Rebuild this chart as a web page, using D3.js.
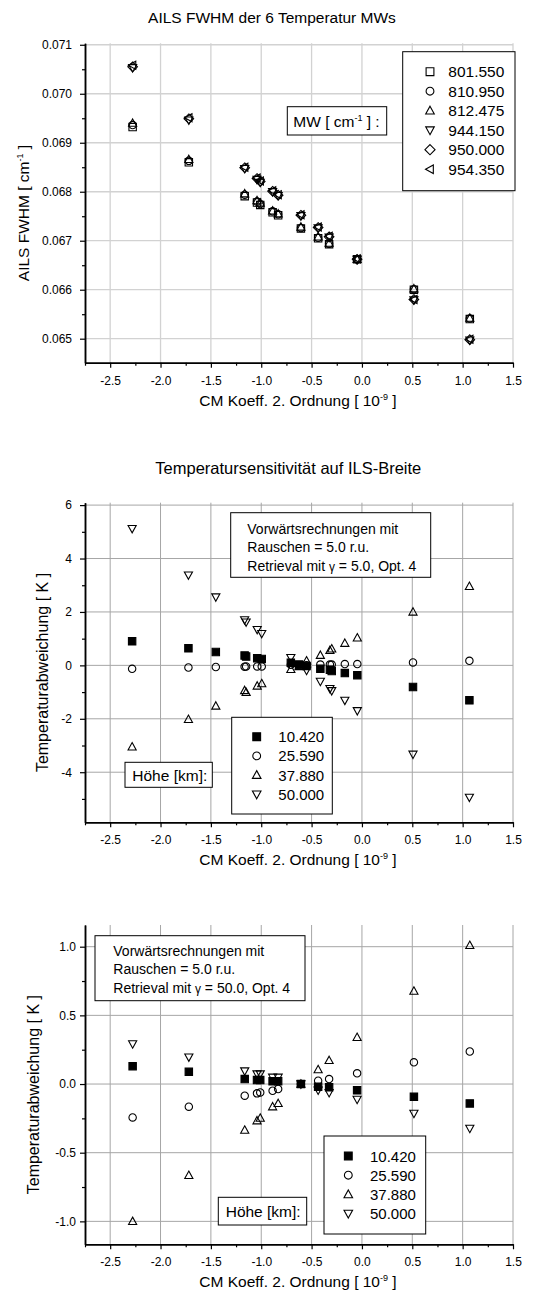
<!DOCTYPE html>
<html>
<head>
<meta charset="utf-8">
<script src="https://cdn.jsdelivr.net/npm/d3@7"></script>
<style>
  body { margin: 0; background: #fff; }
  svg { display: block; }
  text { font-family: "Liberation Sans", Arial, Helvetica, sans-serif; fill: #000; }
</style>
</head>
<body>
<svg id="chart" width="535" height="1293"></svg>
<script>
// ---- shared x axis: CM coefficient of 2nd order [1e-9] ----
const xTicks = [-2.5, -2.0, -1.5, -1.0, -0.5, 0.0, 0.5, 1.0, 1.5];
const xMinorTicks = [-2.75, -2.25, -1.75, -1.25, -0.75, -0.25, 0.25, 0.75, 1.25];

// ---- panel 1: AILS FWHM of the 6 temperature micro windows ----
const cmCoeff = [-2.277, -1.719, -1.164, -1.042, -1.010, -0.887, -0.832, -0.606, -0.435, -0.326, -0.048, 0.516, 1.071];
const fwhm801 = [0.06932, 0.06860, 0.06791, 0.06778, 0.06773, 0.06758, 0.06752, 0.06725, 0.06705, 0.06693, 0.06662, 0.06600, 0.06540];
const fwhm810 = [0.06936, 0.06863, 0.06794, 0.06780, 0.06775, 0.06760, 0.06754, 0.06726, 0.06706, 0.06694, 0.06662, 0.06601, 0.06541];
const fwhm812 = [0.06940, 0.06866, 0.06796, 0.06782, 0.06777, 0.06761, 0.06755, 0.06728, 0.06708, 0.06695, 0.06662, 0.06602, 0.06542];
const fwhm944 = [0.07053, 0.06946, 0.06847, 0.06825, 0.06819, 0.06800, 0.06792, 0.06751, 0.06726, 0.06707, 0.06662, 0.06579, 0.06497];
const fwhm950 = [0.07055, 0.06949, 0.06849, 0.06827, 0.06821, 0.06801, 0.06793, 0.06752, 0.06727, 0.06708, 0.06662, 0.06580, 0.06498];
const fwhm954 = [0.07058, 0.06951, 0.06850, 0.06828, 0.06822, 0.06802, 0.06794, 0.06753, 0.06728, 0.06709, 0.06663, 0.06580, 0.06499];
const mwLabels = ["801.550", "810.950", "812.475", "944.150", "950.000", "954.350"];
const fwhmTicks = [0.065, 0.066, 0.067, 0.068, 0.069, 0.070, 0.071];

// ---- panel 2: temperature deviation, retrieval with gamma = 5.0 ----
const cmCoeffG5 = [-2.282, -1.723, -1.451, -1.165, -1.150, -1.040, -0.995, -0.706, -0.625, -0.550, -0.413, -0.318, -0.300, -0.170, -0.046, 0.507, 1.067];
const dTg5h10 = [0.90, 0.64, 0.50, 0.37, 0.33, 0.27, 0.24, 0.10, 0.03, -0.02, -0.13, -0.16, -0.21, -0.29, -0.37, -0.81, -1.31];
const dTg5h25 = [-0.13, -0.08, -0.06, -0.05, -0.04, -0.04, -0.04, 0.02, 0.00, 0.00, 0.03, 0.03, 0.03, 0.05, 0.05, 0.11, 0.17];
const dTg5h37 = [-3.05, -2.02, -1.52, -0.94, -1.01, -0.77, -0.68, -0.15, -0.04, 0.17, 0.38, 0.56, 0.62, 0.83, 1.03, 2.00, 2.96];
const dTg5h50 = [5.12, 3.38, 2.56, 1.70, 1.62, 1.34, 1.19, 0.29, 0.03, -0.19, -0.60, -0.87, -0.95, -1.31, -1.70, -3.33, -4.94];
const dTg5Ticks = [-4, -2, 0, 2, 4, 6];
const dTg5Minor = [-5, -3, -1, 1, 3, 5];

// ---- panel 3: temperature deviation, retrieval with gamma = 50.0 ----
const dTg50h10 = [0.130, 0.089, 0.036, 0.029, 0.029, 0.020, 0.020, 0.000, -0.020, -0.024, -0.046, -0.093, -0.141];
const dTg50h25 = [-0.243, -0.165, -0.085, -0.068, -0.061, -0.049, -0.036, 0.000, 0.024, 0.036, 0.078, 0.158, 0.237];
const dTg50h37 = [-1.000, -0.665, -0.335, -0.267, -0.248, -0.165, -0.141, 0.000, 0.105, 0.172, 0.340, 0.677, 1.010];
const dTg50h50 = [0.292, 0.196, 0.095, 0.073, 0.073, 0.049, 0.049, 0.000, -0.045, -0.063, -0.112, -0.214, -0.323];
const dTg50Ticks = [-1.0, -0.5, 0.0, 0.5, 1.0];
const dTg50Minor = [-0.75, -0.25, 0.25, 0.75];

const heightLabels = ["10.420", "25.590", "37.880", "50.000"];

// ---- drawing ----
const svg = d3.select("#chart");
const X_LEFT = 85, X_RIGHT = 513;
const x = d3.scaleLinear().domain([-2.75, 1.5]).range([X_LEFT, X_RIGHT]);
const dash = s => s.replace(/\u2212/g, "-");

// marker outlines, centred on the data point
const shapes = {
  square: r => `M${-r},${-r}h${2 * r}v${2 * r}h${-2 * r}Z`,
  circle: r => `M${r},0A${r},${r} 0 1,1 ${-r},0A${r},${r} 0 1,1 ${r},0Z`,
  up: r => `M0,${-r * 1.15}L${r * 1.1},${r * 0.85}L${-r * 1.1},${r * 0.85}Z`,
  down: r => `M0,${r * 1.15}L${r * 1.1},${-r * 0.85}L${-r * 1.1},${-r * 0.85}Z`,
  diamond: r => `M0,${-r * 1.3}L${r * 1.3},0L0,${r * 1.3}L${-r * 1.3},0Z`,
  left: r => `M${-r * 1.15},0L${r * 0.85},${-r * 1.1}L${r * 0.85},${r * 1.1}Z`
};

function marker(sel, shape, filled, r) {
  sel.attr("d", shapes[shape](r))
    .attr("fill", filled ? "#000" : "none")
    .attr("stroke", "#000")
    .attr("stroke-width", 1.1);
}

function drawPanel(cfg) {
  const y = d3.scaleLinear().domain(cfg.yDomain).range([cfg.bottom, cfg.top]);
  const g = svg.append("g");

  // grid
  g.append("g").selectAll("line").data(xTicks).join("line")
    .attr("x1", d => x(d)).attr("x2", d => x(d))
    .attr("y1", cfg.top).attr("y2", cfg.bottom)
    .attr("stroke", cfg.gridColor).attr("stroke-width", cfg.gridWidth);
  g.append("g").selectAll("line").data(cfg.yTicks).join("line")
    .attr("x1", X_LEFT).attr("x2", X_RIGHT)
    .attr("y1", d => y(d)).attr("y2", d => y(d))
    .attr("stroke", cfg.gridColor).attr("stroke-width", cfg.gridWidth);

  // x axis
  const xMinorAxis = g.append("g").attr("transform", `translate(0,${cfg.bottom})`)
    .call(d3.axisBottom(x).tickValues(xMinorTicks).tickSize(3).tickSizeOuter(0).tickFormat(""));
  const xAxis = g.append("g").attr("transform", `translate(0,${cfg.bottom})`)
    .call(d3.axisBottom(x).tickValues(xTicks).tickSize(5).tickSizeOuter(0).tickPadding(8.5)
      .tickFormat(d => dash(d3.format(".1f")(d))));

  // y axis
  const yMinorAxis = g.append("g").attr("transform", `translate(${X_LEFT},0)`)
    .call(d3.axisLeft(y).tickValues(cfg.yMinor).tickSize(3).tickSizeOuter(0).tickFormat(""));
  const yAxis = g.append("g").attr("transform", `translate(${X_LEFT},0)`)
    .call(d3.axisLeft(y).tickValues(cfg.yTicks).tickSize(5).tickSizeOuter(0).tickPadding(cfg.yPad)
      .tickFormat(d => dash(d3.format(cfg.yFormat)(d))));

  [xMinorAxis, xAxis, yMinorAxis, yAxis].forEach(a => {
    a.select(".domain").attr("stroke-width", 1.5);
    a.selectAll(".tick line").attr("stroke-width", 1.2);
    a.selectAll("text").style("font-size", "12px")
      .style("font-family", '"Liberation Sans", Arial, sans-serif');
  });

  // series
  cfg.series.forEach(s => {
    const pts = cfg.xs.map((xv, i) => [xv, s.values[i]]);
    g.append("g").selectAll("path").data(pts).join("path")
      .attr("transform", d => `translate(${x(d[0])},${y(d[1])})`)
      .call(marker, s.shape, s.filled, cfg.markerR);
  });

  // axis titles
  const xt = g.append("text")
    .attr("x", 298).attr("y", cfg.bottom + 43)
    .attr("text-anchor", "middle").style("font-size", "15.5px");
  xt.append("tspan").text("CM Koeff. 2. Ordnung [ 10");
  xt.append("tspan").attr("dy", -6).style("font-size", "9px").text("-9");
  xt.append("tspan").attr("dy", 6).text(" ]");

  const yc = (cfg.top + cfg.bottom) / 2 + 10;
  const yt = g.append("text")
    .attr("transform", `translate(${cfg.yLabelX},${yc}) rotate(-90)`)
    .attr("text-anchor", "middle").style("font-size", cfg.yLabelSize + "px");
  cfg.yLabel(yt);

  if (cfg.title) {
    g.append("text").attr("x", cfg.title.x).attr("y", cfg.title.y)
      .attr("text-anchor", "middle").style("font-size", cfg.title.size + "px")
      .text(cfg.title.text);
  }

  cfg.decorate(g);
  return g;
}

function box(g, x0, y0, x1, y1) {
  g.append("rect").attr("x", x0).attr("y", y0)
    .attr("width", x1 - x0).attr("height", y1 - y0)
    .attr("fill", "#fff").attr("stroke", "#000").attr("stroke-width", 1);
}

function legend(g, b, series, labels, symX, textX, rowY, step, size) {
  box(g, b[0], b[1], b[2], b[3]);
  series.forEach((s, i) => {
    const cy = rowY + i * step;
    g.append("path").attr("transform", `translate(${symX},${cy})`)
      .call(marker, s.shape, s.filled, 3.9);
    g.append("text").attr("x", textX).attr("y", cy + 5.5)
      .style("font-size", size + "px").text(labels[i]);
  });
}

function noteBox(g, b, textX, baselines, gammaValue) {
  box(g, b[0], b[1], b[2], b[3]);
  const lines = ["Vorwärtsrechnungen mit", "Rauschen = 5.0 r.u."];
  lines.forEach((t, i) => g.append("text").attr("x", textX).attr("y", baselines[i])
    .style("font-size", "14px").text(t));
  const t3 = g.append("text").attr("x", textX).attr("y", baselines[2]).style("font-size", "14px");
  t3.append("tspan").text("Retrieval mit ");
  t3.append("tspan").style("font-size", "12px").text("γ");
  t3.append("tspan").text(` = ${gammaValue}, Opt. 4`);
}

function labelBox(g, b, textX, baseline, text, size) {
  box(g, b[0], b[1], b[2], b[3]);
  g.append("text").attr("x", textX).attr("y", baseline)
    .style("font-size", size + "px").text(text);
}

// panel 1
const fwhmSeries = [
  { values: fwhm801, shape: "square", filled: false },
  { values: fwhm810, shape: "circle", filled: false },
  { values: fwhm812, shape: "up", filled: false },
  { values: fwhm944, shape: "down", filled: false },
  { values: fwhm950, shape: "diamond", filled: false },
  { values: fwhm954, shape: "left", filled: false }
];
drawPanel({
  top: 43.3, bottom: 362.7, yDomain: [0.06451, 0.07103],
  yTicks: fwhmTicks, yMinor: [0.0655, 0.0665, 0.0675, 0.0685, 0.0695, 0.0705],
  yFormat: ".3f", yPad: 8, gridColor: "#d2d2d2", gridWidth: 1.3,
  xs: cmCoeff, series: fwhmSeries, markerR: 3.7,
  yLabelX: 29, yLabelSize: 15.5,
  yLabel: t => {
    t.append("tspan").text("AILS FWHM [ cm");
    t.append("tspan").attr("dy", -6).style("font-size", "9px").text("-1");
    t.append("tspan").attr("dy", 6).text(" ]");
  },
  title: { text: "AILS FWHM der 6 Temperatur MWs", x: 272, y: 22.8, size: 15.5 },
  decorate: g => {
    legend(g, [402.7, 51.7, 515, 190.7], fwhmSeries, mwLabels, 430, 448.3, 71.7, 19.5, 15.5);
    box(g, 287.3, 106.7, 386.7, 135);
    const t = g.append("text").attr("x", 293.3).attr("y", 126.5).style("font-size", "15.5px");
    t.append("tspan").text("MW [ cm");
    t.append("tspan").attr("dy", -6).style("font-size", "9px").text("-1");
    t.append("tspan").attr("dy", 6).text(" ] :");
  }
});

// panel 2
const g5Series = [
  { values: dTg5h10, shape: "square", filled: true },
  { values: dTg5h25, shape: "circle", filled: false },
  { values: dTg5h37, shape: "up", filled: false },
  { values: dTg5h50, shape: "down", filled: false }
];
const tempLabel = t => t.text("Temperaturabweichung [ K ]");
drawPanel({
  top: 502.7, bottom: 822.3, yDomain: [-5.875, 6.09],
  yTicks: dTg5Ticks, yMinor: dTg5Minor,
  yFormat: "d", yPad: 8, gridColor: "#a6a6a6", gridWidth: 1,
  xs: cmCoeffG5, series: g5Series, markerR: 3.7,
  yLabelX: 48, yLabelSize: 16, yLabel: tempLabel,
  title: { text: "Temperatursensitivität auf ILS-Breite", x: 288.3, y: 474, size: 16.5 },
  decorate: g => {
    noteBox(g, [230.7, 512.7, 430.7, 577.3], 247.3, [533.5, 552, 570.5], "5.0");
    legend(g, [231.7, 717.3, 332.3, 814], g5Series, heightLabels, 256.7, 278.3, 736.7, 19.2, 15);
    labelBox(g, [125, 762.3, 212.3, 787.3], 132.3, 780.5, "Höhe [km]:", 15.5);
  }
});

// panel 3
const g50Series = [
  { values: dTg50h10, shape: "square", filled: true },
  { values: dTg50h25, shape: "circle", filled: false },
  { values: dTg50h37, shape: "up", filled: false },
  { values: dTg50h50, shape: "down", filled: false }
];
drawPanel({
  top: 925, bottom: 1244.3, yDomain: [-1.167, 1.158],
  yTicks: dTg50Ticks, yMinor: dTg50Minor,
  yFormat: ".1f", yPad: 4, gridColor: "#a6a6a6", gridWidth: 1,
  xs: cmCoeff, series: g50Series, markerR: 3.7,
  yLabelX: 39, yLabelSize: 16, yLabel: tempLabel,
  title: null,
  decorate: g => {
    noteBox(g, [95, 935.7, 305, 1000.7], 113.3, [955.5, 974, 992.5], "50.0");
    legend(g, [324, 1136, 425.7, 1234], g50Series, heightLabels, 348.3, 370, 1156, 19.2, 15);
    labelBox(g, [218.3, 1197.3, 306.7, 1225], 225.7, 1216.5, "Höhe [km]:", 15.5);
  }
});
</script>
</body>
</html>
